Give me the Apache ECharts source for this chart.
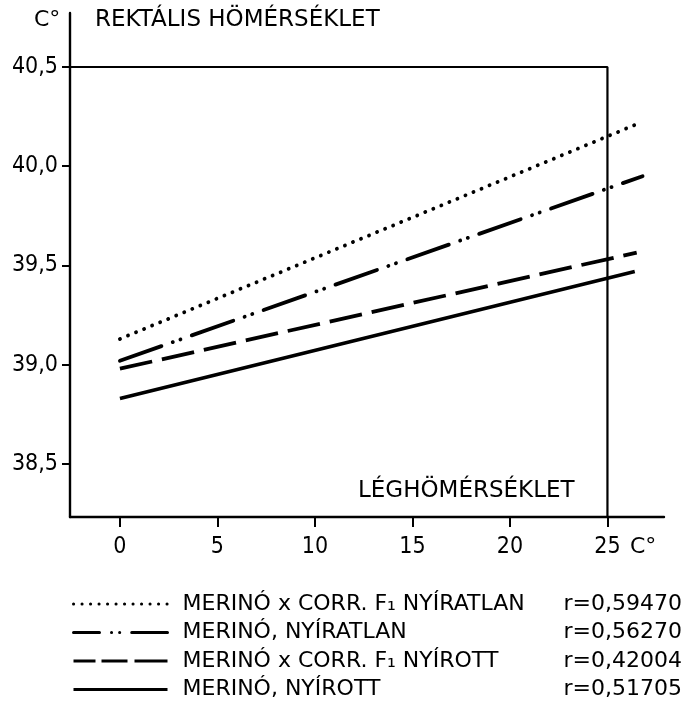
<!DOCTYPE html>
<html>
<head>
<meta charset="utf-8">
<style>
  html, body { margin: 0; padding: 0; background: #fff; }
  #chart { width: 683px; height: 710px; }
</style>
<script src="https://cdn.jsdelivr.net/npm/echarts@6/dist/echarts.min.js"></script>
</head>
<body>
<div id="chart"></div>
<script>
// Regression lines: rectal temperature (°C) against air temperature (°C)
const seriesNames = [
  'MERINÓ x CORR. F₁ NYÍRATLAN',
  'MERINÓ, NYÍRATLAN',
  'MERINÓ x CORR. F₁ NYÍROTT',
  'MERINÓ, NYÍROTT'
];
const rValues = ['r=0,59470', 'r=0,56270', 'r=0,42004', 'r=0,51705'];

// [air temperature, rectal temperature] at the two ends of each line
const merinoCorrUnshorn = [[0, 39.13], [26.7, 40.22]];
const merinoUnshorn     = [[0, 39.02], [26.8, 39.95]];
const merinoCorrShorn   = [[0, 38.98], [26.5, 39.565]];
const merinoShorn       = [[0, 38.83], [26.4, 39.47]];

const xTicks = [0, 5, 10, 15, 20, 25];
const yTicks = [38.5, 39.0, 39.5, 40.0, 40.5];

// axis extents and the boxed corner of the plot frame
const xMin = -2.56, xMax = 27.9;
const yMin = 38.233, yMax = 40.772;
const frameX = 25, frameY = 40.5;

const FONT = '"DejaVu Sans", "Liberation Sans", sans-serif';
const NUM_FONT = '"DejaVu Sans Condensed", "DejaVu Sans", sans-serif';
const INK = '#000';

const chart = echarts.init(document.getElementById('chart'), null, { renderer: 'canvas' });

const lineStyles = [
  { width: 3.8, type: [0.1, 8.6], cap: 'round', color: INK },
  { width: 3.8, type: [44, 12, 0.1, 8, 0.1, 12], cap: 'round', color: INK },
  { width: 3.8, type: [33, 10], cap: 'butt', color: INK },
  { width: 3.6, type: 'solid', cap: 'butt', color: INK }
];
// shorter patterns for the key samples
const keyStyles = [
  { width: 3, type: [0.1, 8.4], cap: 'round', color: INK },
  { width: 3, type: [26, 12, 0.1, 8, 0.1, 12, 40, 20], cap: 'round', color: INK },
  { width: 3, type: [22, 6, 26, 7, 40, 10], cap: 'butt', color: INK },
  { width: 3, type: 'solid', cap: 'butt', color: INK }
];
const lineData = [merinoCorrUnshorn, merinoUnshorn, merinoCorrShorn, merinoShorn];

const series = lineData.map((d, i) => ({
  name: seriesNames[i],
  type: 'line',
  data: d,
  symbol: 'none',
  lineStyle: lineStyles[i],
  itemStyle: { color: INK },
  silent: true,
  animation: false,
  z: 3
}));

// the frame: top border at 40,5 and the vertical at 25 °C
series.push({
  name: 'frame',
  type: 'line',
  data: [[xMin, frameY], [frameX, frameY], [frameX, yMin]],
  symbol: 'none',
  lineStyle: { width: 2.2, color: INK },
  silent: true,
  animation: false,
  z: 2
});

const rByName = {};
seriesNames.forEach((n, i) => { rByName[n] = rValues[i]; });

chart.setOption({
  backgroundColor: '#fff',
  animation: false,
  grid: { left: 70, right: 19, top: 13, bottom: 193 },
  xAxis: {
    type: 'value',
    min: xMin,
    max: xMax,
    splitLine: { show: false },
    axisLine: { onZero: false, lineStyle: { color: INK, width: 2.4 } },
    axisTick: { customValues: xTicks, length: 10, lineStyle: { color: INK, width: 2 } },
    axisLabel: {
      customValues: xTicks,
      margin: 19,
      fontFamily: NUM_FONT,
      fontSize: 23,
      color: INK
    }
  },
  yAxis: {
    type: 'value',
    min: yMin,
    max: yMax,
    splitLine: { show: false },
    axisLine: { onZero: false, lineStyle: { color: INK, width: 2.4 } },
    axisTick: { customValues: yTicks, length: 8, lineStyle: { color: INK, width: 2 } },
    axisLabel: {
      customValues: yTicks,
      margin: 12,
      fontFamily: NUM_FONT,
      fontSize: 23,
      color: INK,
      formatter: v => v.toFixed(1).replace('.', ',')
    }
  },
  legend: {
    data: seriesNames.map((n, i) => ({ name: n, lineStyle: keyStyles[i] })),
    orient: 'vertical',
    left: 72,
    top: 593,
    padding: 0,
    itemWidth: 94,
    itemHeight: 14,
    itemGap: 6.5,
    selectedMode: false,
    itemStyle: { opacity: 0 },
    formatter: name => '{n|' + name + '}{r|' + rByName[name] + '}',
    textStyle: {
      color: INK,
      rich: {
        n: { fontFamily: FONT, fontSize: 22, lineHeight: 24, color: INK, width: 381, padding: [0, 0, 0, 10] },
        r: { fontFamily: FONT, fontSize: 22, lineHeight: 24, color: INK }
      }
    }
  },
  graphic: [
    {
      type: 'text', left: 34, top: 9,
      style: { text: 'C°', font: '22px ' + FONT, fill: INK }
    },
    {
      type: 'text', left: 95, top: 9,
      style: { text: 'REKTÁLIS HÖMÉRSÉKLET', font: '23px ' + FONT, fill: INK }
    },
    {
      type: 'text', left: 358, top: 480,
      style: { text: 'LÉGHÖMÉRSÉKLET', font: '23px ' + FONT, fill: INK }
    },
    {
      type: 'text', left: 630, top: 536,
      style: { text: 'C°', font: '22px ' + FONT, fill: INK }
    }
  ],
  series: series
});
</script>
</body>
</html>
